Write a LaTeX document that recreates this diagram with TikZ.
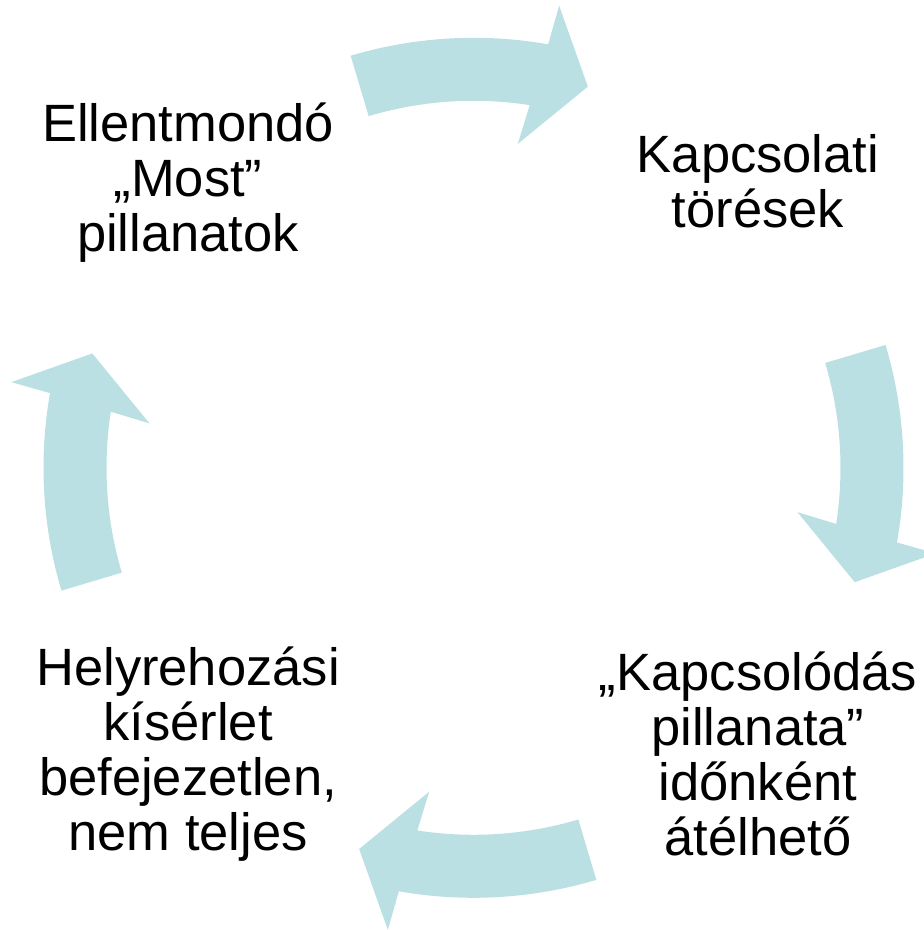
\documentclass[tikz,border=0pt]{standalone}
\usepackage{fontspec}
\setmainfont{Liberation Sans}
\definecolor{arrowfill}{RGB}{187,224,227}
\newcommand{\mylines}[1]{\vtop{\baselineskip=54.8pt\lineskiplimit=-100pt\lineskip=0pt\halign{\hfil##\hfil\cr#1\crcr}}}
\tikzset{
  lbl/.style={anchor=base, inner sep=0pt, font=\fontsize{52.5}{54.8}\selectfont},
  cyclearrow/.style={fill=arrowfill, draw=none}
}
\begin{document}
\begin{tikzpicture}
\useasboundingbox (0pt,0pt) rectangle (924pt,930pt);
\clip (0pt,0pt) rectangle (924pt,930pt);
\foreach \a in {90,0,-90,180} {
  \fill[cyclearrow, shift={(473.5pt,462.2pt)}]
    (\a+16.6:430pt) arc[start angle=\a+16.6, end angle=\a-10, radius=430pt]
    -- (\a-10.5:470pt) -- (\a-16.7:398pt) -- (\a-7.8:327pt) -- (\a-8.8:367pt)
    arc[start angle=\a-8.8, end angle=\a+16.6, radius=367pt] -- cycle;
}
\node[lbl] (a) at (188pt,788pt) {\mylines{Ellentmondó\cr „Most”\cr pillanatok}};
\node[lbl] (b) at (758pt,757pt) {\mylines{Kapcsolati\cr törések}};
\node[lbl] (c) at (758pt,239pt) {\mylines{„Kapcsolódás\cr pillanata”\cr időnként\cr átélhető}};
\node[lbl] (d) at (188pt,244pt) {\mylines{Helyrehozási\cr kísérlet\cr befejezetlen,\cr nem teljes}};
\end{tikzpicture}
\end{document}
